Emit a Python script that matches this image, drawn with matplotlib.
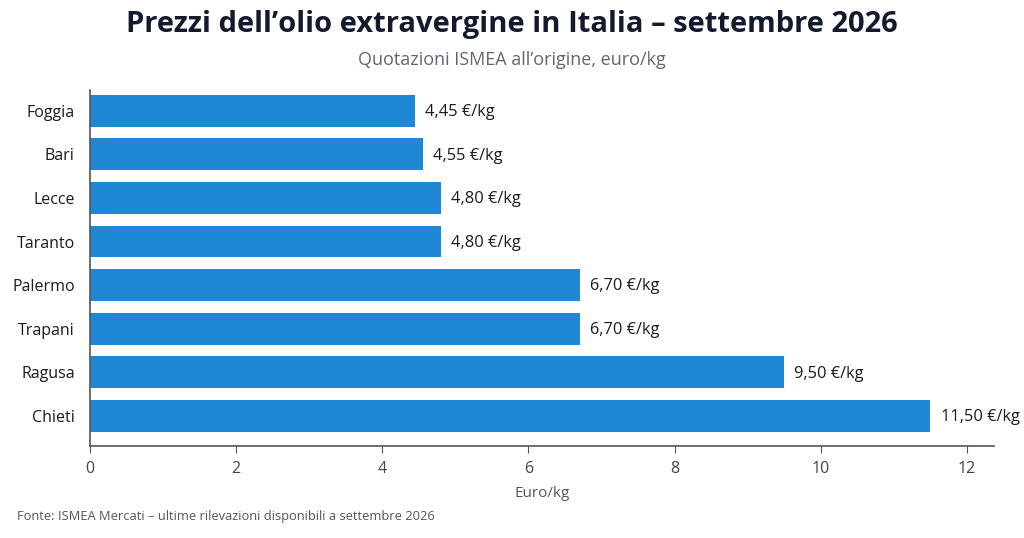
import matplotlib
matplotlib.use("Agg")
import matplotlib.pyplot as plt

# dati
province = ["Foggia", "Bari", "Lecce", "Taranto", "Palermo", "Trapani", "Ragusa", "Chieti"]
prezzi = [4.45, 4.55, 4.80, 4.80, 6.70, 6.70, 9.50, 11.50]
xticks = [0, 2, 4, 6, 8, 10, 12]

plt.rcParams['font.family'] = ['Open Sans', 'DejaVu Sans']

fig = plt.figure(figsize=(10.24, 5.38), dpi=100)
ax = fig.add_axes([0.0879, 0.171, 0.8828, 0.662])

pos = list(range(len(province)))
ax.barh(pos, prezzi, height=0.73, color="#1e88d6")
for p, v in zip(pos, prezzi):
    ax.text(v + 0.14, p + 0.03, f"{v:.2f}".replace(".", ",") + " €/kg",
            va="center", ha="left", fontsize=11.8, color="#1a1a1a")

ax.set_ylim(7.69, -0.48)
ax.set_xlim(0, 12.37)
ax.set_yticks(pos)
ax.set_yticklabels(province, fontsize=11.5, color="#1a1a1a")
ax.set_xticks(xticks)
ax.set_xticklabels([str(t) for t in xticks], fontsize=11.5, color="#444444")
ax.tick_params(axis="y", length=0, pad=11)
ax.tick_params(axis="x", length=5, color="#555555", pad=6)
for s in ["top", "right"]:
    ax.spines[s].set_visible(False)
for s in ["left", "bottom"]:
    ax.spines[s].set_color("#555555")
    ax.spines[s].set_linewidth(1.2)
ax.set_xlabel("Euro/kg", fontsize=11, color="#555555", labelpad=6)

fig.text(0.5, 0.955, "Prezzi dell\u2019olio extravergine in Italia \u2013 settembre 2026",
         ha="center", va="center", fontsize=21, fontweight="bold", color="#141a2e")
fig.text(0.5, 0.888, "Quotazioni ISMEA all\u2019origine, euro/kg",
         ha="center", va="center", fontsize=13, color="#5f6670")
fig.text(0.017, 0.04, "Fonte: ISMEA Mercati \u2013 ultime rilevazioni disponibili a settembre 2026",
         ha="left", va="center", fontsize=9.3, color="#555555")

fig.savefig("out.png", dpi=100, facecolor="white")
